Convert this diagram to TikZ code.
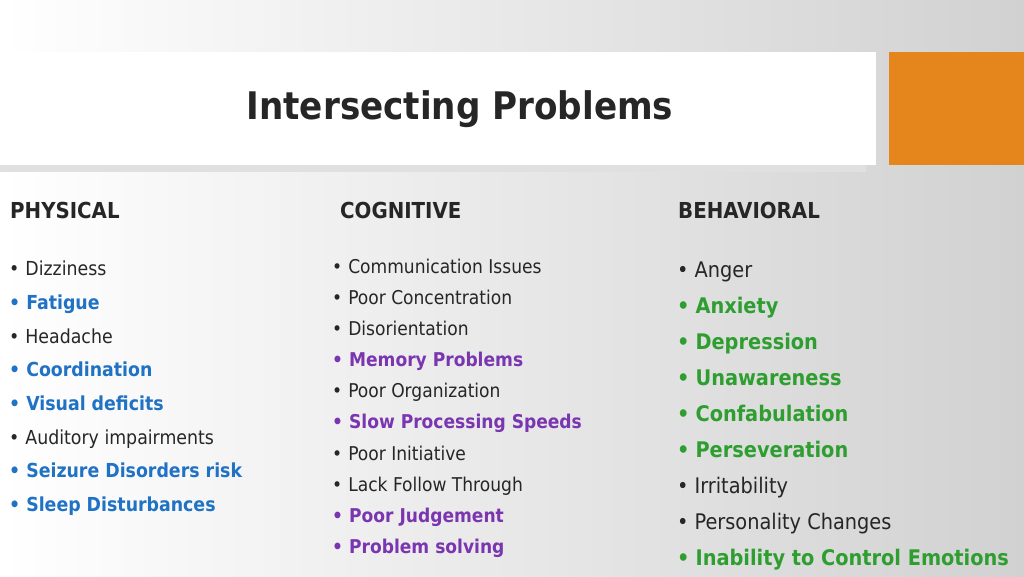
\documentclass[tikz,border=0pt]{standalone}
\usepackage{fontspec}
\setmainfont{DejaVu Sans Condensed}
\definecolor{bl}{HTML}{1F72C4}
\definecolor{pu}{HTML}{7A35B0}
\definecolor{gr}{HTML}{2E9E30}
\definecolor{org}{HTML}{E4861C}
\definecolor{tx}{HTML}{262626}
\begin{document}
\begin{tikzpicture}[x=1pt,y=-1pt,
  it/.style={anchor=west,inner sep=0pt,text height=10pt,text depth=3pt,text=tx,yshift=-4pt},
  hd/.style={anchor=west,inner sep=0pt,font=\fontsize{22}{22}\selectfont\bfseries,text=tx}]
\useasboundingbox (0,0) rectangle (1024,576);
\shade[left color=white,right color=black!18] (0,0) rectangle (1024,576);
\fill[black!12] (0,160) rectangle (866,172);
\fill[white] (0,52) rectangle (876,165);
\fill[org] (889,52) rectangle (1024,165);
\node[inner sep=0pt,font=\fontsize{38}{38}\selectfont\bfseries,text=tx] (t) at (460,109) {Intersecting Problems};
\node[hd] (h1) at (10,210) {PHYSICAL};
\node[hd] (h2) at (340,210) {COGNITIVE};
\node[hd] (h3) at (678,210) {BEHAVIORAL};
\foreach \y/\c/\s/\t [count=\i] in {268/tx//Dizziness,302/bl/\bfseries/Fatigue,336/tx//Headache,369/bl/\bfseries/Coordination,403/bl/\bfseries/Visual deficits,437/tx//Auditory impairments,470/bl/\bfseries/Seizure Disorders risk,504/bl/\bfseries/Sleep Disturbances}
  \node[it,text=\c,font=\fontsize{19.3}{19}\selectfont\s] (p\i) at (9,\y) {•\hspace{6pt}\t};
\foreach \y/\c/\s/\t [count=\i] in {266/tx//Communication Issues,297/tx//Poor Concentration,328/tx//Disorientation,359/pu/\bfseries/Memory Problems,390/tx//Poor Organization,421/pu/\bfseries/Slow Processing Speeds,453/tx//Poor Initiative,484/tx//Lack Follow Through,515/pu/\bfseries/Poor Judgement,546/pu/\bfseries/Problem solving}
  \node[it,text=\c,font=\fontsize{19}{19}\selectfont\s] (c\i) at (332,\y) {•\hspace{6pt}\t};
\foreach \y/\c/\s/\t [count=\i] in {270/tx//Anger,306/gr/\bfseries/Anxiety,342/gr/\bfseries/Depression,378/gr/\bfseries/Unawareness,414/gr/\bfseries/Confabulation,450/gr/\bfseries/Perseveration,486/tx//Irritability,522/tx//Personality Changes,558/gr/\bfseries/Inability to Control Emotions}
  \node[it,text=\c,font=\fontsize{21.5}{21}\selectfont\s] (b\i) at (677,\y) {•\hspace{6pt}\t};
\end{tikzpicture}
\end{document}
